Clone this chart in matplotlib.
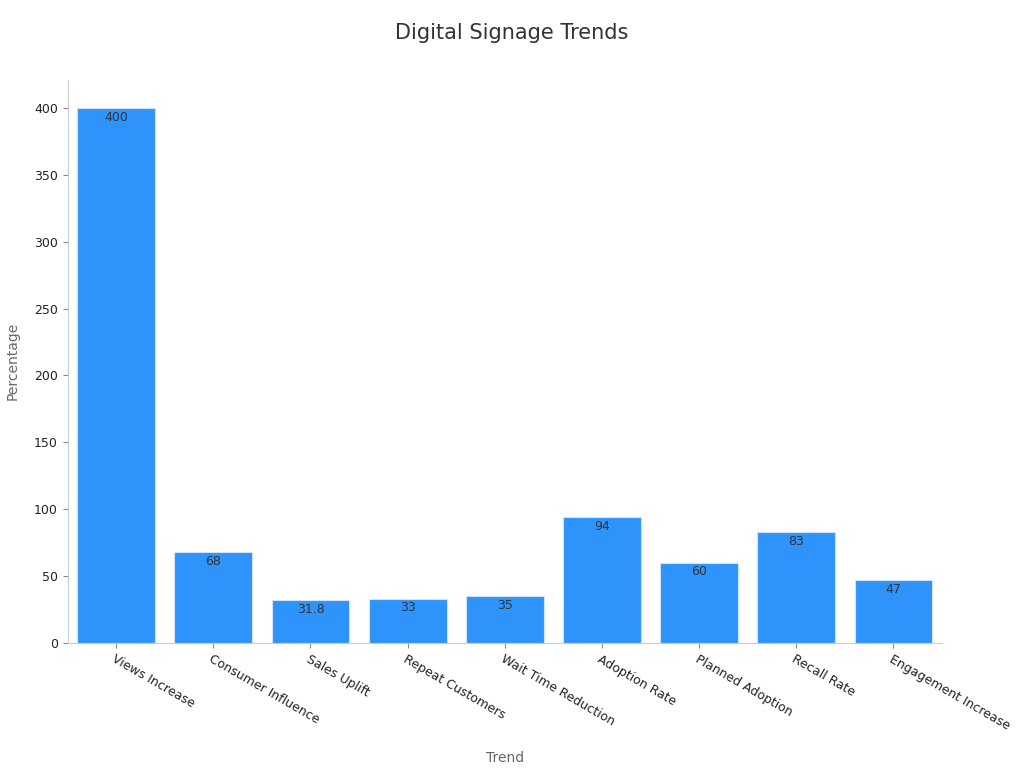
import matplotlib.pyplot as plt

categories = ["Views Increase", "Consumer Influence", "Sales Uplift", "Repeat Customers",
              "Wait Time Reduction", "Adoption Rate", "Planned Adoption", "Recall Rate",
              "Engagement Increase"]
values = [400, 68, 31.8, 33, 35, 94, 60, 83, 47]
labels = ["400", "68", "31.8", "33", "35", "94", "60", "83", "47"]

fig = plt.figure(figsize=(10.24, 7.68), dpi=100)
ax = fig.add_axes([0.066, 0.163, 0.854, 0.733])
x = range(len(categories))
ax.bar(x, values, width=0.8, color="#2E93FA", edgecolor="#cfe3fb", linewidth=0.8)
for i, (v, l) in enumerate(zip(values, labels)):
    ax.text(i, v - 2, l, ha="center", va="top", fontsize=9, color="#333333")
ax.set_xlim(-0.5, len(categories) - 0.5)
ax.set_ylim(0, 421)
ax.set_yticks([0, 50, 100, 150, 200, 250, 300, 350, 400])
ax.set_xticks(list(x))
ax.set_xticklabels(categories, rotation=-30, ha="left", rotation_mode="anchor", fontsize=9, color="#222222")
ax.tick_params(axis="y", labelsize=9, colors="#222222")
ax.tick_params(color="#888888")
for s in ["top", "right"]:
    ax.spines[s].set_visible(False)
for s in ["left", "bottom"]:
    ax.spines[s].set_color("#cccccc")
ax.set_xlabel("Trend", fontsize=10, color="#666666")
ax.xaxis.set_label_coords(0.5, -0.192)
ax.set_ylabel("Percentage", fontsize=10, color="#666666", labelpad=10)
fig.suptitle("Digital Signage Trends", fontsize=15, color="#333333", y=0.97)
fig.savefig("out.png", dpi=100)
